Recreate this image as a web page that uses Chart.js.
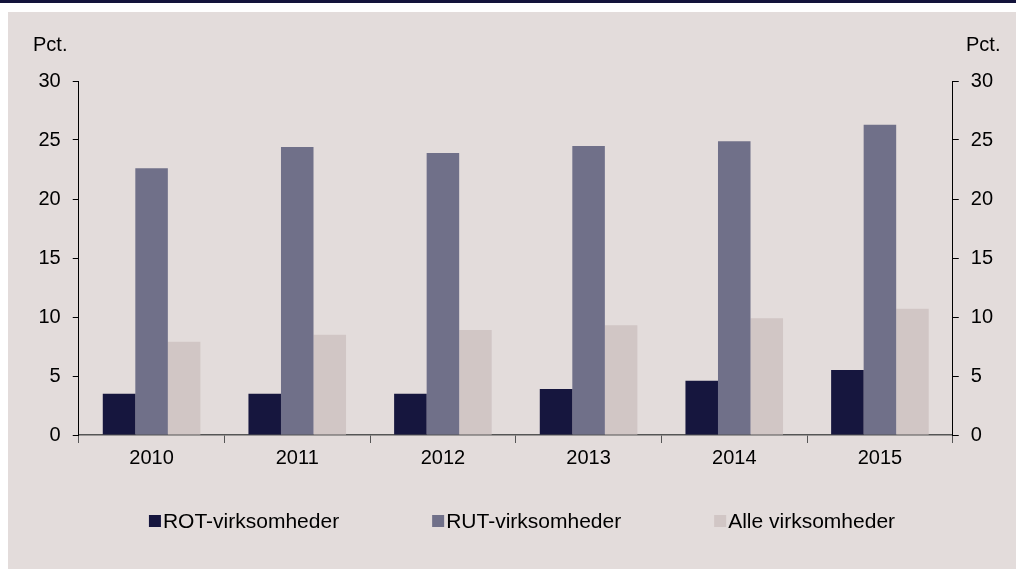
<!DOCTYPE html>
<html>
<head>
<meta charset="utf-8">
<script src="https://cdn.jsdelivr.net/npm/chart.js@4.4.0/dist/chart.umd.min.js"></script>
<style>
  html, body { margin: 0; padding: 0; background: #ffffff; }
  body { width: 1016px; height: 569px; position: relative; overflow: hidden; }
  .topbar { position: absolute; left: 0; top: 0; width: 1016px; height: 3px; background: #13133b; }
  .panel { position: absolute; left: 8px; top: 12px; width: 1008px; height: 557px; background: #e3dcdb; }
</style>
</head>
<body>
<div class="topbar"></div>
<div class="panel"><canvas id="myChart" width="1008" height="557"></canvas></div>
<script>
var years = ['2010', '2011', '2012', '2013', '2014', '2015'];
var rotValues = [3.5, 3.5, 3.5, 3.9, 4.6, 5.5];
var rutValues = [22.6, 24.4, 23.9, 24.5, 24.9, 26.3];
var alleValues = [7.9, 8.5, 8.9, 9.3, 9.9, 10.7];
var yTicks = [0, 5, 10, 15, 20, 25, 30];
var unitLabel = 'Pct.';

var fontFamily = 'Arial, "Liberation Sans", sans-serif';

// "Pct." above both y axes
var unitPlugin = {
    id: 'unitLabels',
    afterDraw: function (chart) {
        var ctx = chart.ctx;
        ctx.save();
        ctx.font = '20px ' + fontFamily;
        ctx.fillStyle = '#000';
        ctx.textBaseline = 'middle';
        ctx.textAlign = 'left';
        ctx.fillText(unitLabel, 25, 33);
        ctx.fillText(unitLabel, 958, 33);
        ctx.restore();
    }
};

// legend drawn by hand: small square right next to the text, wide gaps
var legendPlugin = {
    id: 'bottomLegend',
    afterDraw: function (chart) {
        var ctx = chart.ctx;
        var box = 12, boxGap = 2, itemGap = 93, cy = 509;
        ctx.save();
        ctx.font = '21px ' + fontFamily;
        ctx.textBaseline = 'middle';
        ctx.textAlign = 'left';
        var sets = chart.data.datasets;
        var widths = sets.map(function (ds) { return box + boxGap + ctx.measureText(ds.label).width; });
        var total = widths.reduce(function (a, b) { return a + b; }, 0) + itemGap * (sets.length - 1);
        var x = 514 - total / 2;
        sets.forEach(function (ds, i) {
            ctx.fillStyle = ds.backgroundColor;
            ctx.fillRect(x, cy - box / 2, box, box);
            ctx.fillStyle = '#000';
            ctx.fillText(ds.label, x + box + boxGap, cy + 1);
            x += widths[i] + itemGap;
        });
        ctx.restore();
    }
};

var axisCommon = {
    min: 0,
    max: 30,
    afterBuildTicks: function (scale) {
        scale.ticks = yTicks.map(function (v) { return { value: v }; });
    },
    border: { display: true, color: '#000', width: 1 },
    grid: { drawOnChartArea: false, drawTicks: true, tickLength: 6, color: '#000' },
    ticks: { color: '#000', padding: 12, font: { size: 20, family: fontFamily } }
};

var ctx = document.getElementById('myChart').getContext('2d');
var chart = new Chart(ctx, {
    type: 'bar',
    data: {
        labels: years,
        datasets: [{
            label: 'ROT-virksomheder',
            data: rotValues,
            backgroundColor: '#16163e'
        }, {
            label: 'RUT-virksomheder',
            data: rutValues,
            backgroundColor: '#707089'
        }, {
            label: 'Alle virksomheder',
            data: alleValues,
            backgroundColor: '#d1c6c5'
        }]
    },
    options: {
        responsive: false,
        animation: false,
        categoryPercentage: 0.67,
        barPercentage: 1.0,
        layout: { padding: { left: 18.5, right: 11, top: 69, bottom: 96 } },
        scales: {
            x: {
                border: { display: true, color: '#555', width: 1.5 },
                grid: { drawOnChartArea: false, drawTicks: true, tickLength: 8, color: '#555', offset: true },
                ticks: { color: '#000', padding: 3, font: { size: 20, family: fontFamily } }
            },
            y: Object.assign({}, axisCommon, { position: 'left' }),
            y2: Object.assign({}, axisCommon, { position: 'right' })
        },
        plugins: {
            legend: { display: false },
            tooltip: { enabled: false }
        }
    },
    plugins: [unitPlugin, legendPlugin]
});
</script>
</body>
</html>
